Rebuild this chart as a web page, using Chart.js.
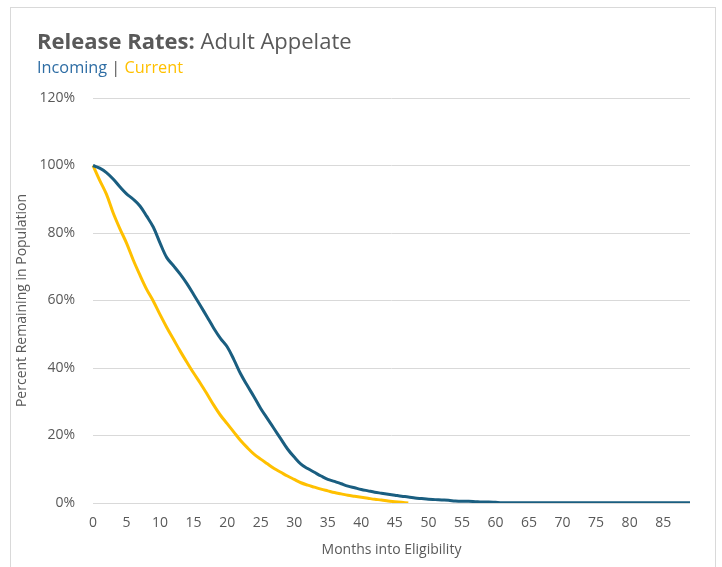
<!DOCTYPE html>
<html>
<head>
<meta charset="utf-8">
<script src="https://cdn.jsdelivr.net/npm/chart.js@4/dist/chart.umd.min.js"></script>
<style>
  html, body { margin: 0; padding: 0; background: #ffffff; }
  #wrap { position: relative; width: 722px; height: 567px; overflow: hidden; }
  #card { position: absolute; left: 10px; top: 7px; width: 706px; height: 600px; border: 1px solid #d9d9d9; box-sizing: border-box; }
  #title { position: absolute; left: 37px; top: 25px; font-family: "Open Sans", sans-serif; font-size: 22px; color: #595959; white-space: nowrap; }
  #title b { font-weight: 700; }
  #sub { position: absolute; left: 37px; top: 56px; font-family: "Open Sans", sans-serif; font-size: 16.3px; color: #595959; white-space: nowrap; }
  #c { position: absolute; left: 0; top: 0; }
</style>
</head>
<body>
<div id="wrap">
  <div id="card"></div>
  <canvas id="c" width="722" height="567"></canvas>
  <div id="title"><b>Release Rates:</b> Adult Appelate</div>
  <div id="sub"><span style="color:#2e6da4">Incoming</span> | <span style="color:#ffc000">Current</span></div>
</div>
<script>
const months = Array.from({length: 90}, (_, i) => String(i));

const incoming = [
  100, 99.2, 97.9, 96, 93.7, 91.6, 90, 88, 85, 81.7,
  77, 72.7, 70.3, 67.8, 65, 61.8, 58.5, 55.2, 51.8, 48.8,
  46.3, 42.5, 38.3, 34.8, 31.5, 28, 25, 22, 19, 16,
  13.6, 11.5, 10.2, 9.1, 8.0, 7.0, 6.4, 5.7, 5.0, 4.5,
  4.0, 3.6, 3.2, 2.9, 2.6, 2.3, 2.0, 1.8, 1.5, 1.3,
  1.1, 1.0, 0.9, 0.8, 0.6, 0.5, 0.5, 0.4, 0.3, 0.3,
  0.2, 0.1, 0.1, 0.1, 0.1, 0.1, 0.1, 0.1, 0.1, 0.1,
  0.1, 0.1, 0.1, 0.1, 0.05, 0.05, 0.05, 0.05, 0.05, 0.05,
  0.05, 0.05, 0.05, 0.05, 0.05, 0.05, 0.05, 0.05, 0.05, 0.05
];

const current = [
  100, 95.6, 91.5, 86, 81.3, 77, 72, 67.5, 63.3, 59.8,
  55.8, 52, 48.5, 45, 41.7, 38.5, 35.5, 32.3, 29, 26,
  23.5, 21, 18.5, 16.4, 14.5, 13, 11.6, 10.2, 9.1, 8.0,
  7, 6, 5.3, 4.7, 4.1, 3.6, 3.1, 2.7, 2.3, 2.0,
  1.7, 1.4, 1.1, 0.9, 0.6, 0.4, 0.2, 0.0
];

const yTicks = [0, 20, 40, 60, 80, 100, 120];

const textColor = '#595959';
const fontFamily = '"Open Sans", sans-serif';

new Chart(document.getElementById('c'), {
  type: 'line',
  data: {
    labels: months,
    datasets: [
      { label: 'Incoming', data: incoming, borderColor: '#1a5e80', borderWidth: 3, pointRadius: 0, tension: 0.35, fill: false },
      { label: 'Current', data: current, borderColor: '#ffc000', borderWidth: 3, pointRadius: 0, tension: 0.35, fill: false }
    ]
  },
  options: {
    responsive: false,
    animation: false,
    devicePixelRatio: 1,
    layout: { padding: { left: 10, right: 32, top: 98, bottom: 5 } },
    plugins: { legend: { display: false }, tooltip: { enabled: false } },
    scales: {
      x: {
        type: 'category',
        offset: false,
        grid: { display: false, drawTicks: false },
        border: { display: false },
        ticks: {
          autoSkip: false, maxRotation: 0, padding: 12,
          color: textColor, font: { family: fontFamily, size: 14 },
          callback: function (v, i) { return (i % 5 === 0) ? months[i] : ''; }
        },
        title: { display: true, text: 'Months into Eligibility', color: textColor, font: { family: fontFamily, size: 14 } },
        afterFit: function (s) { s.height = 59; }
      },
      y: {
        min: yTicks[0], max: yTicks[yTicks.length - 1],
        afterBuildTicks: function (s) { s.ticks = yTicks.map(v => ({ value: v })); },
        grid: { color: '#d9d9d9', lineWidth: 1, drawTicks: false },
        border: { display: false },
        ticks: { padding: 18, color: textColor, font: { family: fontFamily, size: 14 }, callback: v => v + '%' },
        title: { display: true, text: 'Percent Remaining in Population', color: textColor, font: { family: fontFamily, size: 14 } },
        afterFit: function (s) { s.width = 83; }
      }
    }
  }
});
</script>
</body>
</html>
